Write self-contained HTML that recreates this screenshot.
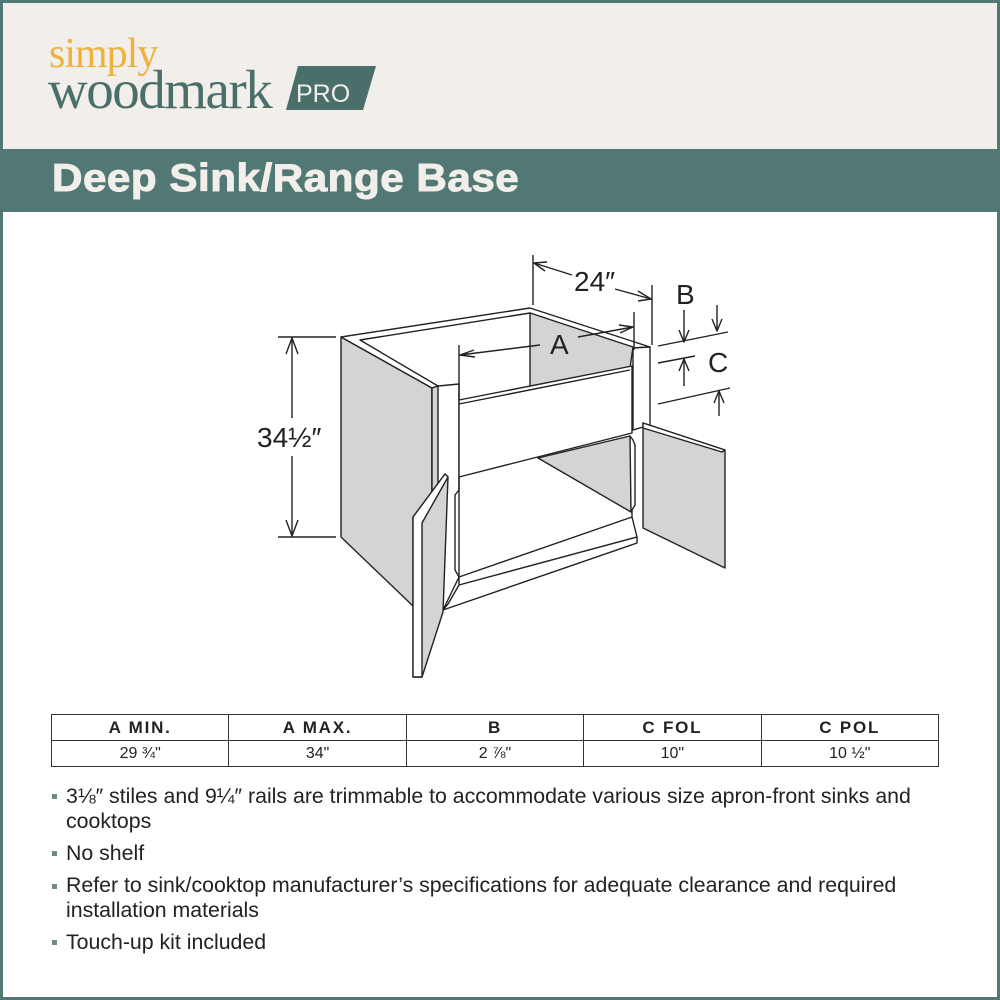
<!DOCTYPE html>
<html><head><meta charset="utf-8"><style>
*{margin:0;padding:0;box-sizing:border-box}
body{width:1000px;height:1000px;background:#fff;position:relative;overflow:hidden;font-family:"Liberation Sans",sans-serif}
.frame{position:absolute;left:0;top:0;width:1000px;height:1000px;border:3px solid #517874;pointer-events:none}
.hdr{position:absolute;left:0;top:0;width:1000px;height:149px;background:#f2eeea}
.band{position:absolute;left:0;top:149px;width:1000px;height:63px;background:#517874}
.title{position:absolute;left:52px;top:157px;font-size:39px;font-weight:bold;color:#f2eeea;letter-spacing:0.5px;transform:scaleX(1.08);transform-origin:0 0;-webkit-text-stroke:1px #f2eeea}
.simply{position:absolute;left:49px;top:30px;font-family:"Liberation Serif",serif;font-size:42px;color:#eeb13c;letter-spacing:-1px}
.wood{position:absolute;left:48px;top:58px;font-family:"Liberation Serif",serif;font-size:55px;color:#4a6f6b;letter-spacing:-1.5px}
table{position:absolute;left:51px;top:714px;width:888px;border-collapse:collapse;table-layout:fixed}
td{border:1.5px solid #333;text-align:center;font-size:16px;color:#222;height:26px;padding:0}
tr.h td{font-weight:bold;letter-spacing:1.8px;font-size:17px}
.b{position:absolute;left:66px;font-size:21.3px;color:#222;line-height:25px}
.sq{position:absolute;left:52px;width:5px;height:5px;background:#6b8d88}
</style></head><body>
<div class="hdr"></div>
<div class="simply">simply</div>
<div class="wood">woodmark</div>
<svg style="position:absolute;left:286px;top:64px" width="92" height="48"><polygon points="12,2 90,2 77,46 0,46" fill="#4a6f6b"/><text x="10" y="38" font-family="Liberation Sans" font-size="25" fill="#f2eeea">PRO</text></svg>
<div class="band"></div>
<div class="title">Deep Sink/Range Base</div>

<svg style="position:absolute;left:0;top:0" width="1000" height="1000" fill="none" stroke="#222" stroke-width="1.4" stroke-linejoin="round">
<polygon points="341,337 432,388 432,608 413,606 341,537" fill="#d4d4d4"/>
<polygon points="341,337 530,308 650,347 633,348 530,313 360,340 438,386 432,388" fill="#fff"/>
<polygon points="530,313 633,347 630,368 530,387" fill="#d4d4d4"/>
<polygon points="432,388 438,386 459,384 459,577 443,610 432,608" fill="#fff"/>
<polygon points="432,388 438,386 438,608 432,608" fill="#d4d4d4"/>
<polygon points="633,348 650,347 650,425 633,430" fill="#fff"/>
<polygon points="459,400 632,366 632,433 459,477" fill="#fff"/>
<line x1="459" y1="404" x2="630" y2="370"/>
<polygon points="538,458 630,436 631,512" fill="#d4d4d4"/>
<polyline points="630,436 633,440 635,445 635,505 632,510 632,517"/>
<polyline points="459,477 459,490 455,495 455,570 459,577"/>
<polygon points="459,577 632,517 637,537 637,543 443,610 448,604 459,585" fill="#fff"/>
<line x1="459" y1="585" x2="637" y2="537"/>
<polygon points="413,517 445,474 448,477 443,612 422,677 413,677" fill="#d4d4d4"/>
<polygon points="413,517 445,474 448,477 422,523 422,677 413,677" fill="#fff"/>
<polygon points="643,423 725,450 725,568 643,528" fill="#d4d4d4"/>
<polygon points="643,423 725,450 722,452 643,428" fill="#fff"/>
<line x1="278" y1="337" x2="336" y2="337"/><line x1="278" y1="537" x2="336" y2="537"/>
<line x1="292" y1="338" x2="292" y2="418"/><line x1="292" y1="456" x2="292" y2="536"/>
<polyline points="286,354 292,338 298,354"/><polyline points="286,520 292,536 298,520"/>
<line x1="533" y1="255" x2="533" y2="305"/><line x1="652" y1="285" x2="652" y2="345"/>
<line x1="534" y1="263" x2="572" y2="275"/><line x1="615" y1="289" x2="651" y2="299"/>
<polyline points="547,262 534,263 545,271"/><polyline points="638,291 651,299 638,301"/>
<line x1="459" y1="345" x2="459" y2="400"/><line x1="634" y1="312" x2="634" y2="350"/>
<line x1="460" y1="355" x2="540" y2="345"/><line x1="578" y1="337" x2="633" y2="327"/>
<polyline points="474,350 460,355 475,357"/><polyline points="619,325 633,327 620,333"/>
<line x1="658" y1="346" x2="728" y2="332"/><line x1="658" y1="363" x2="695" y2="356"/><line x1="658" y1="404" x2="730" y2="388"/>
<line x1="684" y1="310" x2="684" y2="342"/><polyline points="679,330 684,342 689,330"/>
<line x1="717" y1="305" x2="717" y2="331"/><polyline points="712,319 717,331 722,319"/>
<line x1="684" y1="386" x2="684" y2="359"/><polyline points="679,371 684,359 689,371"/>
<line x1="719" y1="416" x2="719" y2="391"/><polyline points="714,403 719,391 724,403"/>
<g fill="#222" stroke="none" font-family="Liberation Sans" font-size="28">
<text x="257" y="447">34½″</text>
<text x="574" y="291">24″</text>
<text x="550" y="354">A</text>
<text x="676" y="304">B</text>
<text x="708" y="372">C</text>
</g>
</svg>

<table>
<tr class="h"><td>A MIN.</td><td>A MAX.</td><td>B</td><td>C FOL</td><td>C POL</td></tr>
<tr><td>29 ¾"</td><td>34"</td><td>2 ⅞"</td><td>10"</td><td>10 ½"</td></tr>
</table>

<div class="sq" style="top:794px"></div>
<div class="b" style="top:784px">3⅛″ stiles and 9¼″ rails are trimmable to accommodate various size apron-front sinks and<br>cooktops</div>
<div class="sq" style="top:851px"></div>
<div class="b" style="top:841px">No shelf</div>
<div class="sq" style="top:884px"></div>
<div class="b" style="top:873px">Refer to sink/cooktop manufacturer’s specifications for adequate clearance and required<br>installation materials</div>
<div class="sq" style="top:940px"></div>
<div class="b" style="top:930px">Touch-up kit included</div>
<div class="frame"></div>
</body></html>
